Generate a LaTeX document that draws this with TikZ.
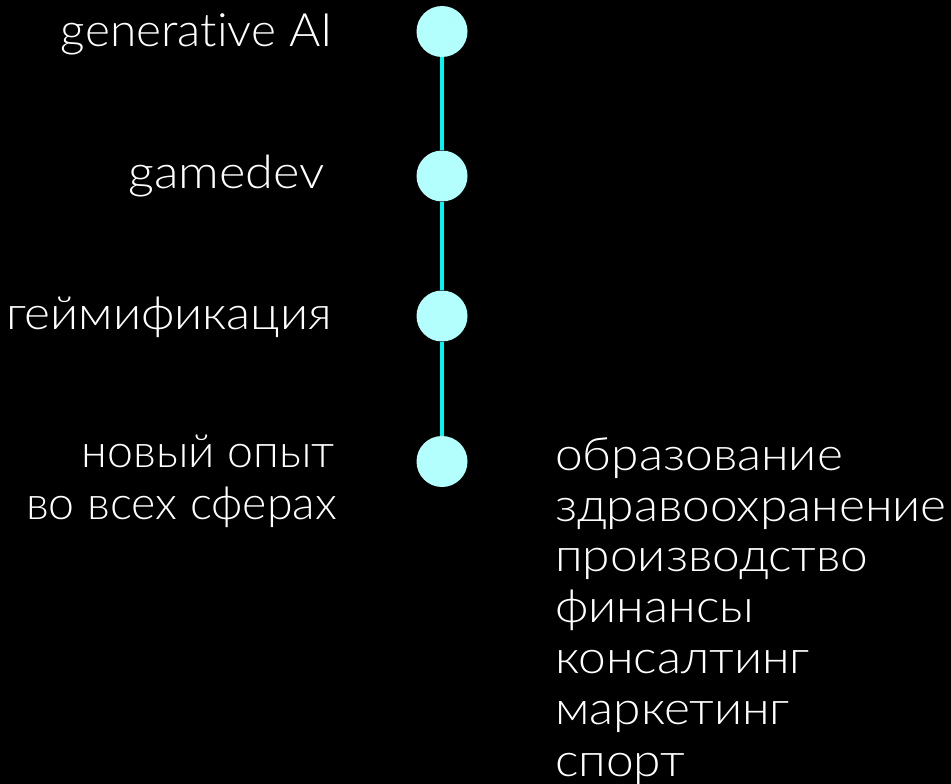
\documentclass[tikz,border=0pt]{standalone}
\usepackage{fontspec}
\setmainfont{Lato Light}[FakeStretch=1.08,Ligatures=NoCommon]
\newfontfamily\latinf{Lato Light}[FakeStretch=1.04,Ligatures=NoCommon]
\newfontfamily\latinw{Lato Light}[FakeStretch=1.10,Ligatures=NoCommon]
\newfontfamily\cyrn{Lato Light}[FakeStretch=1.01,Ligatures=NoCommon]
\definecolor{dotc}{HTML}{B3FFFE}
\definecolor{linec}{HTML}{00F5F5}
\begin{document}
\begin{tikzpicture}[x=1pt,y=-1pt,
  dot/.style={circle,fill=dotc,minimum size=51pt,inner sep=0pt},
  conn/.style={draw=linec,line width=4pt},
  lbl/.style={text=white,inner sep=0pt,font=\fontsize{46}{51}\selectfont},
  lleft/.style={lbl,anchor=base east},
  lright/.style={lbl,anchor=base west}]
\fill[black] (0,0) rectangle (951,784);
\useasboundingbox (0,0) rectangle (951,784);
\node[dot] (c1) at (442,31.5) {};
\node[dot] (c2) at (442,176) {};
\node[dot] (c3) at (442,316) {};
\node[dot] (c4) at (442,461.5) {};
\draw[conn] (c1.south) -- (c2.north);
\draw[conn] (c2.south) -- (c3.north);
\draw[conn] (c3.south) -- (c4.north);
\node[lleft] (t1) at (333,47) {\latinf generative AI};
\node[lleft] (t2) at (325,188) {\latinw gamedev};
\node[lleft] (t3) at (332,329) {геймификация};
\node[lleft] (t4a) at (335,467) {\cyrn новый опыт};
\node[lleft] (t4b) at (337,519) {\cyrn во всех сферах};
\node[lright] (l1) at (555,470) {образование};
\node[lright] (l2) at (555,521) {здравоохранение};
\node[lright] (l3) at (555,571) {производство};
\node[lright] (l4) at (555,622) {финансы};
\node[lright] (l5) at (555,673) {консалтинг};
\node[lright] (l6) at (555,724) {маркетинг};
\node[lright] (l7) at (555,776) {спорт};
\end{tikzpicture}
\end{document}
